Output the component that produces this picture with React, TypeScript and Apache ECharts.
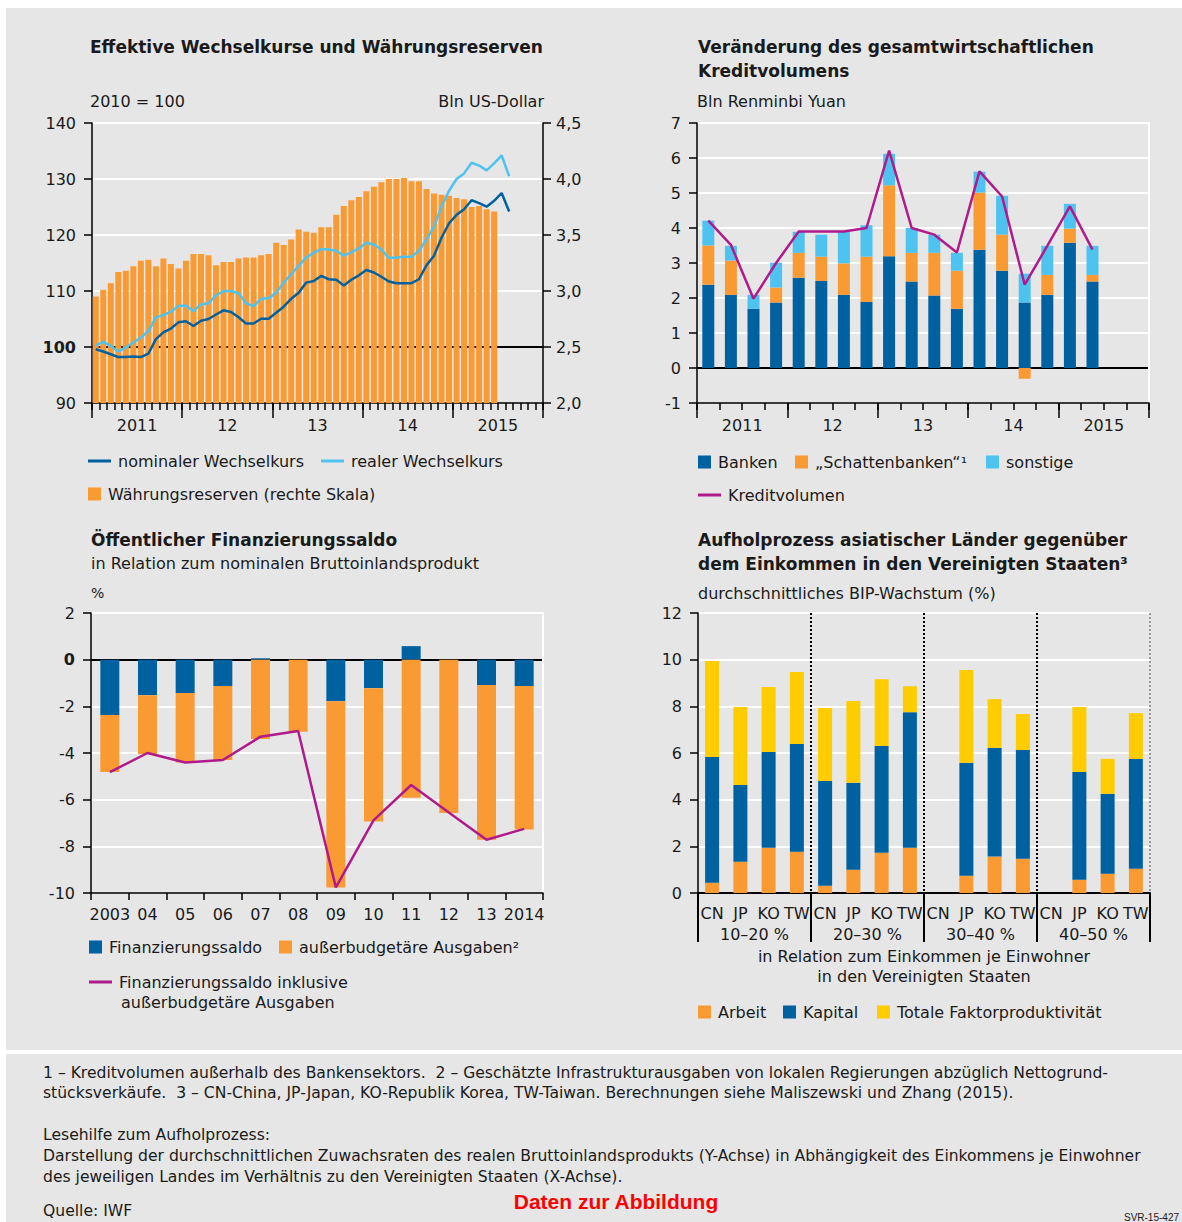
import React, { useEffect, useRef } from 'react';
import * as echarts from 'echarts';

// ---------- Panel 1: Effektive Wechselkurse und Währungsreserven ----------
const TL_YEARS = ['2011', '2012', '2013', '2014', '2015'];
const TL_YEAR_LABELS = ['2011', '12', '13', '14', '2015'];
const MONTHS = ['01', '02', '03', '04', '05', '06', '07', '08', '09', '10', '11', '12'];
const reserves = [
  2.95, 3.01, 3.07, 3.17, 3.18, 3.22, 3.27, 3.28, 3.22, 3.29, 3.24, 3.20,
  3.27, 3.33, 3.33, 3.32, 3.23, 3.26, 3.26, 3.29, 3.30, 3.30, 3.32, 3.33,
  3.43, 3.41, 3.46, 3.55, 3.53, 3.52, 3.57, 3.57, 3.68, 3.76, 3.81, 3.84,
  3.89, 3.93, 3.97, 4.00, 4.00, 4.01, 3.98, 3.98, 3.91, 3.87, 3.86, 3.85,
  3.83, 3.82, 3.75, 3.76, 3.73, 3.71,
];
const nominal = [
  99.6, 99.2, 98.7, 98.2, 98.2, 98.3, 98.2, 98.8, 101.4, 102.6, 103.3, 104.4,
  104.6, 103.75, 104.7, 105.0, 105.8, 106.55, 106.25, 105.3, 104.2, 104.2, 105.05, 105.05,
  106.1, 107.2, 108.6, 109.7, 111.5, 111.8, 112.7, 112.1, 112.0, 111.0, 112.0, 112.8,
  113.75, 113.3, 112.55, 111.7, 111.4, 111.4, 111.4, 112.1, 114.6, 116.3, 119.5, 122.1,
  123.6, 124.6, 126.2, 125.7, 125.05, 126.1, 127.5, 124.2,
];
const real = [
  100.3, 100.9, 100.2, 99.2, 99.9, 100.8, 101.7, 102.8, 105.3, 105.7, 106.3, 107.3,
  107.4, 106.4, 107.6, 107.8, 109.2, 110.0, 110.0, 109.6, 107.8, 107.3, 108.6, 108.7,
  109.7, 111.5, 113.0, 114.5, 116.0, 116.8, 117.5, 117.4, 117.2, 116.3, 116.9, 117.6,
  118.6, 118.3, 117.4, 115.9, 116.0, 116.1, 116.1, 117.2, 119.2, 121.5, 125.05, 127.9,
  130.0, 131.0, 132.9, 132.4, 131.55, 132.8, 134.2, 130.5,
];

// ---------- Panel 2: Kreditvolumen ----------
const QUARTERS = ['Q1', 'Q2', 'Q3', 'Q4'];
const banken = [2.38, 2.09, 1.69, 1.87, 2.58, 2.49, 2.09, 1.89, 3.19, 2.47, 2.07, 1.69, 3.38, 2.78, 1.87, 2.09, 3.58, 2.47];
const schatten = [1.12, 0.98, 0.0, 0.43, 0.71, 0.69, 0.90, 1.29, 2.03, 0.82, 1.22, 1.09, 1.63, 1.03, -0.31, 0.57, 0.40, 0.19];
const sonstige = [0.71, 0.42, 0.40, 0.71, 0.60, 0.63, 0.90, 0.90, 0.90, 0.71, 0.52, 0.51, 0.60, 1.11, 0.82, 0.83, 0.71, 0.83];
const kreditvolumen = [4.21, 3.52, 1.98, 3.0, 3.9, 3.9, 3.9, 4.0, 6.21, 4.0, 3.81, 3.3, 5.62, 4.9, 2.38, 3.49, 4.62, 3.38];

// ---------- Panel 3: Öffentlicher Finanzierungssaldo ----------
const BL_YEARS = ['2003', '04', '05', '06', '07', '08', '09', '10', '11', '12', '13', '2014'];
const finSaldo = [-2.37, -1.52, -1.43, -1.13, 0.06, 0, -1.78, -1.22, 0.58, 0, -1.09, -1.13];
const ausserbudget = [-2.44, -2.52, -2.98, -3.17, -3.40, -3.09, -7.98, -5.72, -5.92, -6.57, -6.63, -6.15];
const finSaldoInkl = [-4.82, -4.0, -4.41, -4.3, -3.3, -3.06, -9.76, -6.89, -5.37, -6.55, -7.72, -7.25];

// ---------- Panel 4: Aufholprozess ----------
const GROUPS = ['10–20 %', '20–30 %', '30–40 %', '40–50 %'];
const COUNTRIES = ['CN', 'JP', 'KO', 'TW'];
const arbeit = [0.44, 1.34, 1.94, 1.77, 0.31, 1.0, 1.72, 1.94, null, 0.74, 1.56, 1.47, null, 0.57, 0.83, 1.04];
const kapital = [5.39, 3.29, 4.10, 4.62, 4.49, 3.72, 4.58, 5.81, null, 4.84, 4.66, 4.66, null, 4.62, 3.42, 4.71];
const tfp = [4.11, 3.34, 2.79, 3.08, 3.13, 3.51, 2.86, 1.11, null, 3.98, 2.09, 1.54, null, 2.78, 1.50, 1.96];

// ---------- styles ----------
const BG = '#E6E6E6';
const TXT = '#1a1a1a';
const FONT = '"DejaVu Sans", sans-serif';
const FOOT_FONT = '"DejaVu Sans", sans-serif';
const ORANGE = '#FA9A33';
const DBLUE = '#0061A0';
const LBLUE = '#4EC3F0';
const MAGENTA = '#B11A8B';
const YELLOW = '#FFCC00';
const CLEAR = 'rgba(0,0,0,0)';

const monthCats = TL_YEARS.flatMap((y) => MONTHS.map((m) => `${y}-${m}`));
const quarterCats = TL_YEARS.flatMap((y) => QUARTERS.map((q) => `${y}${q}`));
const brCats = GROUPS.flatMap((g) => COUNTRIES.map((c) => `${c}|${g}`));

function T(x: number, y: number, text: string, o: any = {}) {
  return {
    type: 'text',
    x,
    y,
    silent: true,
    style: {
      text,
      fill: o.color ?? TXT,
      fontSize: o.size ?? 16,
      fontWeight: o.weight ?? 'normal',
      fontFamily: o.family ?? FONT,
      align: o.align ?? 'left',
      verticalAlign: 'middle',
    },
  };
}

const labelStyle = { color: TXT, fontSize: 16, fontFamily: FONT };
const blackLine = { color: '#000', width: 1.5 };

function legendItem(name: string, left: number, centerY: number, kind: 'rect' | 'line', formatter?: string) {
  return {
    data: [name],
    left,
    top: centerY - 10,
    padding: 0,
    icon: 'rect',
    itemWidth: kind === 'rect' ? 13 : 23,
    itemHeight: kind === 'rect' ? 13 : 3,
    selectedMode: false,
    formatter: formatter ?? '{name}',
    textStyle: { ...labelStyle, lineHeight: 20, padding: [0, 0, 0, 2] },
  };
}

function buildOption(): any {
  const xAxis: any[] = [
    {
      gridIndex: 0, type: 'category', data: monthCats, position: 'bottom',
      axisLine: { show: true, onZero: false, lineStyle: blackLine },
      axisTick: { show: true, interval: 0, length: 7, lineStyle: blackLine },
      axisLabel: { show: false }, splitLine: { show: false },
    },
    {
      gridIndex: 0, type: 'category', data: TL_YEAR_LABELS, position: 'bottom',
      axisLine: { show: false, onZero: false },
      axisTick: { show: true, interval: 0, length: 15, lineStyle: blackLine },
      axisLabel: { ...labelStyle, interval: 0, margin: 14 }, splitLine: { show: false },
    },
    {
      gridIndex: 1, type: 'category', data: quarterCats, position: 'bottom',
      axisLine: { show: true, onZero: false, lineStyle: blackLine },
      axisTick: { show: true, interval: 0, length: 7, lineStyle: blackLine },
      axisLabel: { show: false }, splitLine: { show: false },
    },
    {
      gridIndex: 1, type: 'category', data: TL_YEAR_LABELS, position: 'bottom',
      axisLine: { show: false, onZero: false },
      axisTick: { show: true, interval: 0, length: 15, lineStyle: blackLine },
      axisLabel: { ...labelStyle, interval: 0, margin: 14 }, splitLine: { show: false },
    },
    {
      gridIndex: 2, type: 'category', data: BL_YEARS, position: 'bottom',
      axisLine: { show: true, onZero: false, lineStyle: blackLine },
      axisTick: { show: true, interval: 0, length: 7, lineStyle: blackLine },
      axisLabel: { ...labelStyle, interval: 0, margin: 13 }, splitLine: { show: false },
    },
    {
      gridIndex: 3, type: 'category', data: brCats, position: 'bottom',
      axisLine: { show: true, onZero: false, lineStyle: { color: '#000', width: 2 } },
      axisTick: { show: false },
      axisLabel: { ...labelStyle, interval: 0, margin: 12, formatter: (v: string) => v.split('|')[0] },
      splitLine: { show: false },
    },
    {
      gridIndex: 3, type: 'category', data: GROUPS, position: 'bottom',
      axisLine: { show: false, onZero: false },
      axisTick: { show: true, interval: 0, length: 49, lineStyle: { color: '#000', width: 2 } },
      axisLabel: { ...labelStyle, interval: 0, margin: 33 },
      splitLine: { show: true, interval: 0, lineStyle: { color: [CLEAR, '#000', '#000', '#000', '#999'], width: 2, type: [2, 2] } },
    },
  ];

  const yAxis: any[] = [
    {
      gridIndex: 0, type: 'value', position: 'left', min: 90, max: 140, interval: 10,
      axisLine: { show: true, lineStyle: blackLine },
      axisTick: { show: true, length: 8, lineStyle: blackLine },
      axisLabel: {
        ...labelStyle, margin: 16,
        formatter: (v: number) => (v === 100 ? '{b|100}' : String(v)),
        rich: { b: { ...labelStyle, fontWeight: 'bold' } },
      },
      splitLine: { show: true, lineStyle: { color: [CLEAR, '#000', '#fff', '#fff', '#fff', '#fff'], width: 2 } },
    },
    {
      gridIndex: 0, type: 'value', position: 'right', min: 2, max: 4.5, interval: 0.5,
      axisLine: { show: true, lineStyle: blackLine },
      axisTick: { show: true, length: 8, lineStyle: blackLine },
      axisLabel: { ...labelStyle, margin: 13, formatter: (v: number) => v.toFixed(1).replace('.', ',') },
      splitLine: { show: false },
    },
    {
      gridIndex: 1, type: 'value', position: 'left', min: -1, max: 7, interval: 1,
      axisLine: { show: true, lineStyle: blackLine },
      axisTick: { show: true, length: 8, lineStyle: blackLine },
      axisLabel: { ...labelStyle, margin: 16 },
      splitLine: { show: true, lineStyle: { color: [CLEAR, '#000', '#fff', '#fff', '#fff', '#fff', '#fff', '#fff', '#fff'], width: 2 } },
    },
    {
      gridIndex: 1, type: 'value', position: 'right', min: 0, max: 1,
      axisLine: { show: true, lineStyle: { color: '#fff', width: 2 } },
      axisTick: { show: false }, axisLabel: { show: false }, splitLine: { show: false },
    },
    {
      gridIndex: 2, type: 'value', position: 'left', min: -10, max: 2, interval: 2,
      axisLine: { show: true, lineStyle: blackLine },
      axisTick: { show: true, length: 8, lineStyle: blackLine },
      axisLabel: {
        ...labelStyle, margin: 16,
        formatter: (v: number) => (v === 0 ? '{b|0}' : String(v)),
        rich: { b: { ...labelStyle, fontWeight: 'bold' } },
      },
      splitLine: { show: true, lineStyle: { color: [CLEAR, '#fff', '#fff', '#fff', '#fff', '#000', '#fff'], width: 2 } },
    },
    {
      gridIndex: 2, type: 'value', position: 'right', min: 0, max: 1,
      axisLine: { show: true, lineStyle: { color: '#fff', width: 2 } },
      axisTick: { show: false }, axisLabel: { show: false }, splitLine: { show: false },
    },
    {
      gridIndex: 3, type: 'value', position: 'left', min: 0, max: 12, interval: 2,
      axisLine: { show: true, lineStyle: blackLine },
      axisTick: { show: true, length: 8, lineStyle: blackLine },
      axisLabel: { ...labelStyle, margin: 16 },
      splitLine: { show: true, lineStyle: { color: [CLEAR, '#fff', '#fff', '#fff', '#fff', '#fff', '#fff'], width: 2 } },
    },
  ];

  const series: any[] = [
    { name: 'Währungsreserven (rechte Skala)', type: 'bar', xAxisIndex: 0, yAxisIndex: 1, data: reserves, itemStyle: { color: ORANGE }, barCategoryGap: '20%' },
    { name: 'realer Wechselkurs', type: 'line', xAxisIndex: 0, yAxisIndex: 0, data: real, symbol: 'none', lineStyle: { color: LBLUE, width: 2.5 }, itemStyle: { color: LBLUE }, z: 5 },
    { name: 'nominaler Wechselkurs', type: 'line', xAxisIndex: 0, yAxisIndex: 0, data: nominal, symbol: 'none', lineStyle: { color: DBLUE, width: 2.5 }, itemStyle: { color: DBLUE }, z: 6 },

    { name: 'Banken', type: 'bar', stack: 'kv', xAxisIndex: 2, yAxisIndex: 2, data: banken, itemStyle: { color: DBLUE }, barWidth: 12 },
    { name: '„Schattenbanken“¹', type: 'bar', stack: 'kv', xAxisIndex: 2, yAxisIndex: 2, data: schatten, itemStyle: { color: ORANGE }, barWidth: 12 },
    { name: 'sonstige', type: 'bar', stack: 'kv', xAxisIndex: 2, yAxisIndex: 2, data: sonstige, itemStyle: { color: LBLUE }, barWidth: 12 },
    { name: 'Kreditvolumen', type: 'line', xAxisIndex: 2, yAxisIndex: 2, data: kreditvolumen, symbol: 'none', lineStyle: { color: MAGENTA, width: 2.5 }, itemStyle: { color: MAGENTA }, z: 6 },

    { name: 'Finanzierungssaldo', type: 'bar', stack: 'fs', xAxisIndex: 4, yAxisIndex: 4, data: finSaldo, itemStyle: { color: DBLUE }, barWidth: 19 },
    { name: 'außerbudgetäre Ausgaben²', type: 'bar', stack: 'fs', xAxisIndex: 4, yAxisIndex: 4, data: ausserbudget, itemStyle: { color: ORANGE }, barWidth: 19 },
    { name: 'Finanzierungssaldo inklusive außerbudgetäre Ausgaben', type: 'line', xAxisIndex: 4, yAxisIndex: 4, data: finSaldoInkl, symbol: 'none', lineStyle: { color: MAGENTA, width: 2.5 }, itemStyle: { color: MAGENTA }, z: 6 },

    { name: 'Arbeit', type: 'bar', stack: 'gr', xAxisIndex: 5, yAxisIndex: 6, data: arbeit, itemStyle: { color: ORANGE }, barWidth: 14 },
    { name: 'Kapital', type: 'bar', stack: 'gr', xAxisIndex: 5, yAxisIndex: 6, data: kapital, itemStyle: { color: DBLUE }, barWidth: 14 },
    { name: 'Totale Faktorproduktivität', type: 'bar', stack: 'gr', xAxisIndex: 5, yAxisIndex: 6, data: tfp, itemStyle: { color: YELLOW }, barWidth: 14 },
  ];

  const legend = [
    legendItem('nominaler Wechselkurs', 88, 461, 'line'),
    legendItem('realer Wechselkurs', 321, 461, 'line'),
    legendItem('Währungsreserven (rechte Skala)', 88, 494, 'rect'),
    legendItem('Banken', 698, 462, 'rect'),
    legendItem('„Schattenbanken“¹', 795, 462, 'rect'),
    legendItem('sonstige', 986, 462, 'rect'),
    legendItem('Kreditvolumen', 698, 495, 'line'),
    legendItem('Finanzierungssaldo', 89, 947, 'rect'),
    legendItem('außerbudgetäre Ausgaben²', 279, 947, 'rect'),
    legendItem('Finanzierungssaldo inklusive außerbudgetäre Ausgaben', 89, 982, 'line', 'Finanzierungssaldo inklusive'),
    legendItem('Arbeit', 698, 1012, 'rect'),
    legendItem('Kapital', 783, 1012, 'rect'),
    legendItem('Totale Faktorproduktivität', 877, 1012, 'rect'),
  ];

  const FS = 15.6;
  const graphic = [
    { type: 'rect', shape: { x: 0, y: 0, width: 1182, height: 8 }, style: { fill: '#fff' }, silent: true },
    { type: 'rect', shape: { x: 0, y: 0, width: 6, height: 1222 }, style: { fill: '#fff' }, silent: true },
    { type: 'rect', shape: { x: 0, y: 1050, width: 1182, height: 4 }, style: { fill: '#fff' }, silent: true },

    T(90, 47, 'Effektive Wechselkurse und Währungsreserven', { weight: 'bold', size: 17 }),
    T(90, 101, '2010 = 100'),
    T(544, 101, 'Bln US-Dollar', { align: 'right' }),

    T(698, 47, 'Veränderung des gesamtwirtschaftlichen', { weight: 'bold', size: 17 }),
    T(698, 71, 'Kreditvolumens', { weight: 'bold', size: 17 }),
    T(697, 101, 'Bln Renminbi Yuan'),

    T(91, 540, 'Öffentlicher Finanzierungssaldo', { weight: 'bold', size: 17 }),
    T(91, 563, 'in Relation zum nominalen Bruttoinlandsprodukt'),
    T(91, 593, '%', { size: 14 }),
    T(121, 1002, 'außerbudgetäre Ausgaben'),

    T(698, 540, 'Aufholprozess asiatischer Länder gegenüber', { weight: 'bold', size: 17 }),
    T(698, 564, 'dem Einkommen in den Vereinigten Staaten³', { weight: 'bold', size: 17 }),
    T(698, 593, 'durchschnittliches BIP-Wachstum (%)'),
    T(924, 956, 'in Relation zum Einkommen je Einwohner', { align: 'center' }),
    T(924, 976, 'in den Vereinigten Staaten', { align: 'center' }),

    T(43, 1073, '1 – Kreditvolumen außerhalb des Bankensektors.  2 – Geschätzte Infrastrukturausgaben von lokalen Regierungen abzüglich Nettogrund-', { family: FOOT_FONT, size: FS }),
    T(43, 1093, 'stücksverkäufe.  3 – CN-China, JP-Japan, KO-Republik Korea, TW-Taiwan. Berechnungen siehe Maliszewski und Zhang (2015).', { family: FOOT_FONT, size: FS }),
    T(43, 1135, 'Lesehilfe zum Aufholprozess:', { family: FOOT_FONT, size: FS }),
    T(43, 1156, 'Darstellung der durchschnittlichen Zuwachsraten des realen Bruttoinlandsprodukts (Y-Achse) in Abhängigkeit des Einkommens je Einwohner', { family: FOOT_FONT, size: FS }),
    T(43, 1177, 'des jeweiligen Landes im Verhältnis zu den Vereinigten Staaten (X-Achse).', { family: FOOT_FONT, size: FS }),
    T(43, 1211, 'Quelle: IWF', { family: FOOT_FONT, size: FS }),
    T(616, 1201, 'Daten zur Abbildung', { family: '"Liberation Sans", Arial, sans-serif', size: 21, weight: 'bold', color: '#FF0000', align: 'center' }),
    T(1179, 1217, 'SVR-15-427', { family: '"Liberation Sans", Arial, sans-serif', size: 10, align: 'right' }),
  ];

  return {
    animation: false,
    backgroundColor: BG,
    textStyle: { fontFamily: FONT },
    grid: [
      { left: 92, top: 123, width: 451, height: 280, outerBoundsMode: 'none' },
      { left: 697, top: 123, width: 452, height: 280, outerBoundsMode: 'none' },
      { left: 91, top: 613, width: 452, height: 280, outerBoundsMode: 'none' },
      { left: 698, top: 613, width: 452, height: 280, outerBoundsMode: 'none' },
    ],
    xAxis,
    yAxis,
    series,
    legend,
    graphic,
  };
}

export default function App() {
  const ref = useRef<HTMLDivElement>(null);
  useEffect(() => {
    document.body.style.margin = '0';
    if (!ref.current) return;
    const chart = echarts.init(ref.current, undefined, { renderer: 'svg' });
    chart.setOption(buildOption());
    return () => chart.dispose();
  }, []);
  return <div ref={ref} style={{ width: 1182, height: 1222 }} />;
}
